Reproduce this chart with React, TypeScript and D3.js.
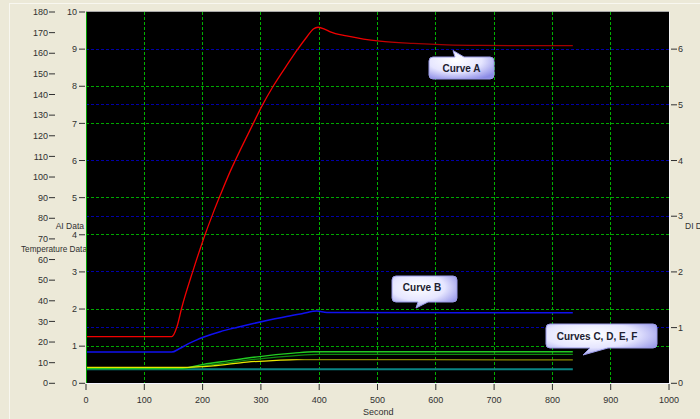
import React from 'react';
import * as d3 from 'd3';

// time axis (seconds) and tick sets
const secTicks = [0, 100, 200, 300, 400, 500, 600, 700, 800, 900, 1000];
const tempTicks = [0, 10, 20, 30, 40, 50, 60, 70, 80, 90, 100, 110, 120, 130, 140, 150, 160, 170, 180];
const aiTicks = [0, 1, 2, 3, 4, 5, 6, 7, 8, 9, 10];
const diTicks = [0, 1, 2, 3, 4, 5, 6];

// Curve A - temperature data
const curveATime = [0, 147, 156, 164, 184, 201, 218, 230, 247, 256, 287, 301, 321, 344, 362, 379, 390, 398, 410, 419, 447, 476, 504, 561, 619, 676, 733, 835];
const curveAValue = [22.6, 22.6, 27.4, 36.4, 55, 69.5, 82.5, 91, 102.5, 108, 126, 134, 144, 154, 161.5, 168, 171.8, 172.6, 171.6, 170.4, 168.4, 166.9, 165.9, 164.8, 164.1, 163.8, 163.7, 163.7];

// Curve B - AI data
const curveBTime = [0, 147, 160, 175, 190, 201, 230, 260, 287, 316, 344, 372, 396, 413, 835];
const curveBValue = [0.84, 0.84, 0.93, 1.06, 1.17, 1.24, 1.39, 1.51, 1.61, 1.71, 1.8, 1.88, 1.945, 1.91, 1.9];

// Curves C, D, E, F - AI data
const curveCTime = [0, 161, 201, 241, 298, 356, 390, 835];
const curveCValue = [0.4, 0.4, 0.51, 0.6, 0.72, 0.81, 0.85, 0.85];
const curveDTime = [0, 165, 201, 241, 298, 355, 400, 835];
const curveDValue = [0.39, 0.39, 0.47, 0.55, 0.66, 0.74, 0.78, 0.78];
const curveETime = [0, 165, 218, 276, 327, 362, 835];
const curveEValue = [0.43, 0.43, 0.47, 0.57, 0.62, 0.64, 0.63];
const curveFTime = [0, 835];
const curveFValue = [0.38, 0.38];

const W = 700;
const H = 419;
const L = 86;
const R = 669;
const T = 12;
const B = 383.3;
const FONT = '"Liberation Sans", Arial, sans-serif';

const x = d3.scaleLinear().domain([0, 1000]).range([L, R]);
const yTemp = d3.scaleLinear().domain([0, 180]).range([B, T]);
const yAI = d3.scaleLinear().domain([0, 10]).range([B, T]);
const yDI = d3.scaleLinear().domain([0, 20 / 3]).range([B, T]);

const zip = (t: number[], v: number[]) => t.map((d, i) => [d, v[i]] as [number, number]);

const lineOn = (ys: d3.ScaleLinear<number, number>) =>
  d3
    .line<[number, number]>()
    .x((d) => x(d[0]))
    .y((d) => ys(d[1]))
    .curve(d3.curveMonotoneX);

// rounded box with a pointer tail
const callout = (
  bx: number, by: number, w: number, h: number, r: number,
  side: 'top' | 'bottom', b1: number, b2: number, tx: number, ty: number
) => {
  const p = d3.path();
  p.moveTo(bx + r, by);
  if (side === 'top') {
    p.lineTo(b1, by);
    p.lineTo(tx, ty);
    p.lineTo(b2, by);
  }
  p.lineTo(bx + w - r, by);
  p.quadraticCurveTo(bx + w, by, bx + w, by + r);
  p.lineTo(bx + w, by + h - r);
  p.quadraticCurveTo(bx + w, by + h, bx + w - r, by + h);
  if (side === 'bottom') {
    p.lineTo(b2, by + h);
    p.lineTo(tx, ty);
    p.lineTo(b1, by + h);
  }
  p.lineTo(bx + r, by + h);
  p.quadraticCurveTo(bx, by + h, bx, by + h - r);
  p.lineTo(bx, by + r);
  p.quadraticCurveTo(bx, by, bx + r, by);
  p.closePath();
  return p.toString();
};

const Callout = ({ d, label, cx, cy }: { d: string; label: string; cx: number; cy: number }) => (
  <g>
    <path d={d} fill="url(#boxGrad)" stroke="#9a9ae6" strokeWidth={1} />
    <text x={cx} y={cy} dy="0.35em" textAnchor="middle" fontFamily={FONT} fontWeight="bold" fontSize={10} fill="#202030">
      {label}
    </text>
  </g>
);

export default function App() {
  const lineTemp = lineOn(yTemp);
  const lineAI = lineOn(yAI);
  const tickColor = '#303030';

  return (
    <svg width={W} height={H} style={{ position: 'absolute', left: 0, top: 0 }} fontFamily={FONT}>
      <defs>
        <radialGradient id="boxGrad" cx="40%" cy="35%" r="75%">
          <stop offset="0" stopColor="#ffffff" />
          <stop offset="0.55" stopColor="#e6e6ff" />
          <stop offset="1" stopColor="#8c8ce6" />
        </radialGradient>
        <linearGradient id="redGrad" gradientUnits="userSpaceOnUse" x1={x(470)} x2={x(560)} y1={0} y2={0}>
          <stop offset="0" stopColor="#f00000" />
          <stop offset="1" stopColor="#a00000" />
        </linearGradient>
        <linearGradient id="yelGrad" gradientUnits="userSpaceOnUse" x1={x(350)} x2={x(375)} y1={0} y2={0}>
          <stop offset="0" stopColor="#e8e800" />
          <stop offset="1" stopColor="#8c8c00" />
        </linearGradient>
        <clipPath id="plotClip">
          <rect x={L} y={T} width={R - L} height={B - T} />
        </clipPath>
      </defs>

      <rect x={0} y={0} width={W} height={H} fill="#ece9d8" />
      <line x1={9.5} y1={3} x2={9.5} y2={H} stroke="#f8f7f0" />
      <line x1={9} y1={3.5} x2={W} y2={3.5} stroke="#f8f7f0" />

      {/* axis titles (temperature title slides under the plot) */}
      <text x={84} y={229} textAnchor="end" fontSize={8.5} fill={tickColor}>AI Data</text>
      <text x={21} y={251.5} fontSize={8.5} fill={tickColor} textLength={66} lengthAdjust="spacingAndGlyphs">Temperature Data</text>
      <text x={685} y={229} fontSize={8.5} fill={tickColor}>DI Data</text>
      <text x={363} y={415} fontSize={9} fill={tickColor}>Second</text>

      {/* plot background */}
      <rect x={L} y={T} width={R - L} height={B - T} fill="#000" />

      {/* grid */}
      <g shapeRendering="crispEdges" strokeDasharray="3,2">
        {secTicks.map((t) => (
          <line key={`v${t}`} x1={x(t)} x2={x(t)} y1={T} y2={B} stroke="#00b000" />
        ))}
        {aiTicks.slice(1, 10).map((t) => (
          <line key={`g${t}`} x1={L} x2={R} y1={yAI(t)} y2={yAI(t)} stroke="#00a800" />
        ))}
        {diTicks.slice(1).map((t) => (
          <line key={`b${t}`} x1={L} x2={R} y1={yDI(t)} y2={yDI(t)} stroke="#0000a8" />
        ))}
      </g>

      {/* curves */}
      <g clipPath="url(#plotClip)" fill="none">
        <path d={lineAI(zip(curveFTime, curveFValue)) ?? ''} stroke="#0a8484" strokeWidth={2} />
        <path d={lineAI(zip(curveDTime, curveDValue)) ?? ''} stroke="#108a10" strokeWidth={1.3} />
        <path d={lineAI(zip(curveCTime, curveCValue)) ?? ''} stroke="#22cc22" strokeWidth={1.3} />
        <path d={lineAI(zip(curveETime, curveEValue)) ?? ''} stroke="url(#yelGrad)" strokeWidth={1.3} />
        <path d={lineAI(zip(curveBTime, curveBValue)) ?? ''} stroke="#1010f0" strokeWidth={1.5} />
        <path d={lineTemp(zip(curveATime, curveAValue)) ?? ''} stroke="url(#redGrad)" strokeWidth={1.3} />
      </g>

      {/* plot frame */}
      <g shapeRendering="crispEdges">
        <line x1={L} x2={R} y1={T - 0.5} y2={T - 0.5} stroke="#a8a8a8" />
        <line x1={L} x2={R + 1} y1={B + 0.5} y2={B + 0.5} stroke="#f4f4ff" />
        <line x1={R + 0.5} x2={R + 0.5} y1={T} y2={B} stroke="#f4f4f4" />
        <line x1={L} x2={L} y1={T} y2={B} stroke="#00a000" />
      </g>

      {/* temperature axis (outer left) */}
      <g fontSize={9} fill={tickColor}>
        {tempTicks.map((t) => (
          <g key={`tt${t}`}>
            <line x1={49} x2={55} y1={yTemp(t)} y2={yTemp(t)} stroke={tickColor} />
            <text x={48} y={yTemp(t)} dy="0.35em" textAnchor="end">{t}</text>
          </g>
        ))}
      </g>

      {/* AI axis (inner left) */}
      <g fontSize={9} fill={tickColor}>
        {aiTicks.map((t) => (
          <g key={`ai${t}`}>
            <line x1={79} x2={85} y1={yAI(t)} y2={yAI(t)} stroke={tickColor} />
            <text x={77} y={yAI(t)} dy="0.35em" textAnchor="end">{t}</text>
          </g>
        ))}
      </g>

      {/* DI axis (right) */}
      <g fontSize={9} fill={tickColor}>
        {diTicks.map((t) => (
          <g key={`di${t}`}>
            <line x1={671} x2={677} y1={yDI(t)} y2={yDI(t)} stroke={tickColor} />
            <text x={678} y={yDI(t)} dy="0.35em">{t}</text>
          </g>
        ))}
      </g>

      {/* seconds axis */}
      <g fontSize={9} fill={tickColor}>
        {secTicks.map((t) => (
          <g key={`s${t}`}>
            <line x1={x(t)} x2={x(t)} y1={384} y2={390} stroke={tickColor} />
            <text x={x(t)} y={403} textAnchor="middle">{t}</text>
          </g>
        ))}
      </g>

      <Callout d={callout(429, 57, 65, 22, 4, 'top', 455, 464, 453, 50.5)} label="Curve A" cx={461.5} cy={68} />
      <Callout d={callout(392, 276, 65, 26, 4, 'bottom', 418, 428, 416, 308)} label="Curve B" cx={422} cy={287.5} />
      <Callout d={callout(546, 324, 111, 24, 4, 'bottom', 590, 608, 583, 355)} label="Curves C, D, E, F" cx={597} cy={336} />
    </svg>
  );
}
